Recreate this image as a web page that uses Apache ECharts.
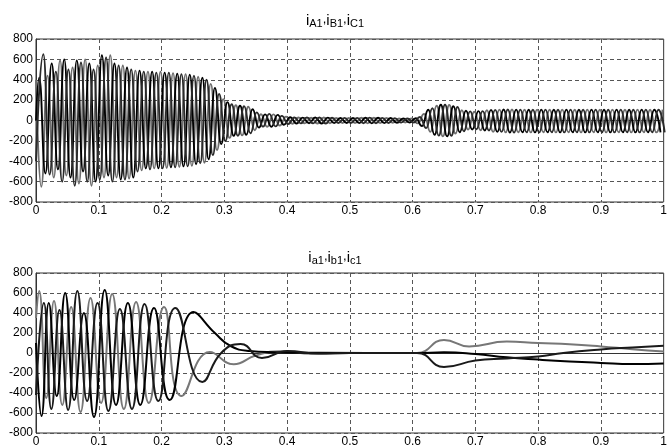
<!DOCTYPE html>
<html><head><meta charset="utf-8">
<script src="https://cdn.jsdelivr.net/npm/echarts@6/dist/echarts.min.js"></script>
<style>html,body{margin:0;padding:0;background:#fff}#c{width:670px;height:448px}</style>
</head><body><div id="c"></div>
<script>
// ---- axes ----
const xMin = 0, xMax = 1, xStep = 0.1;
const yMin = -800, yMax = 800, yStep = 200;

// ---- top plot: stator currents, 50 Hz, signed peak values every half period ----
const topHalfPeriod = 0.01;
const topStartA = 0.005, topStartB = 0.011667, topStartC = 0.008333;
const topInitA = 0, topInitB = -400, topInitC = 400;
const topPeaksA = [
  420,-520,560,-480,600,-560,590,-500,560,-600,
  640,-540,560,-580,520,-560,490,-470,480,-470,
  470,-460,460,-450,450,-430,420,-380,320,-230,
  180,-150,145,-140,110,-70,60,-62,55,-42,
  32,-30,28,-27,29,-30,28,-26,25,-24,
  25,-26,27,-28,27,-26,24,-22,20,-20,
  22,-55,105,-140,155,-155,140,-115,95,-88,
  92,-98,104,-112,108,-118,107,-116,106,-117,
  107,-116,106,-117,107,-116,106,-117,107,-116,
  106,-117,107,-116,106,-117,107,-116,106,-117
];
const topPeaksB = [
  650,-530,480,-600,500,-640,570,-600,500,-580,
  620,-600,540,-580,500,-500,480,-480,470,-470,
  470,-460,455,-450,440,-420,400,-340,260,-200,
  160,-150,140,-125,80,-60,65,-58,45,-35,
  30,-28,29,-28,30,-29,27,-25,26,-25,
  26,-27,28,-27,26,-25,23,-21,20,-20,
  35,-75,120,-148,155,-150,132,-105,90,-86,
  92,-98,104,-112,108,-118,107,-116,106,-117,
  107,-116,106,-117,107,-116,106,-117,107,-116,
  106,-117,107,-116,106,-117,107,-116,106,-117
];
const topPeaksC = [
  -650,440,-560,590,-540,520,-620,600,-640,540,
  -560,640,-560,540,-570,490,-490,480,-470,480,
  -465,465,-455,455,-445,430,-415,360,-290,210,
  -170,150,-145,135,-95,62,-62,60,-50,38,
  -32,29,-28,27,-29,30,-27,25,-25,24,
  -26,27,-28,27,-26,24,-22,21,-20,20,
  -28,65,-112,145,-155,152,-128,100,-90,86,
  -95,100,-112,107,-117,108,-116,106,-117,107,
  -116,106,-117,107,-116,106,-117,107,-116,106,
  -117,107,-116,106,-117,107,-116,106,-117,107
];

// ---- bottom plot: rotor currents (extremes) ----
const rotorGTimes  = [0,0.005,0.0164,0.0287,0.0419,0.056,0.071,0.0869,0.1037,0.1214,0.14,0.1595,0.1799,0.204,0.232,0.277,0.315,0.35,0.39,0.44,0.5,0.607,0.65,0.69,0.75,0.8,0.85,0.9,0.95,1.0];
const rotorGValues = [350,620,-450,520,-520,460,-590,550,-500,590,-560,510,-500,460,-430,10,-112,-25,18,-8,0,0,131,66,115,99,88,66,38,15];
const rotorK1Times  = [0,0.0087,0.0204,0.033,0.0465,0.0609,0.0762,0.0924,0.1095,0.1275,0.1464,0.1662,0.188,0.213,0.251,0.285,0.31,0.34,0.38,0.45,0.607,0.65,0.7,0.75,0.8,0.85,0.9,0.95,1.0];
const rotorK1Values = [100,-630,500,-430,600,-470,400,-640,630,-520,500,-520,450,-470,410,200,70,20,8,2,0,7,-10,-43,-66,-85,-99,-110,-105];
const rotorK2Times  = [0,0.0125,0.0245,0.0374,0.0512,0.0659,0.0815,0.098,0.1154,0.1337,0.1529,0.173,0.195,0.222,0.265,0.295,0.326,0.36,0.40,0.45,0.5,0.607,0.65,0.7,0.75,0.8,0.84,0.9,0.95,1.0];
const rotorK2Values = [-420,500,-560,430,-570,620,-480,500,-580,440,-560,490,-480,450,-290,0,90,-50,20,-5,0,0,-140,-76,-55,-35,0,35,55,72];

// ---- build ----
function peaks(init, start, vals) {
  const d = [[0, init]];
  vals.forEach((v, k) => d.push([+(start + k * topHalfPeriod).toFixed(6), v]));
  return d;
}
function pairs(ts, vs) { return ts.map((t, i) => [t, vs[i]]); }

const FONT = 'Liberation Sans, Arial, sans-serif';
function xAxis(gi) {
  return {
    type: 'value', gridIndex: gi, min: xMin, max: xMax, interval: xStep,
    axisLine: { show: true, lineStyle: { color: '#333', width: 1 } },
    axisTick: { show: false },
    axisLabel: { color: '#000', fontSize: 12, fontFamily: FONT, margin: 3 },
    splitLine: { show: true, lineStyle: { color: '#555', type: [4, 3], width: 1 } }
  };
}
function yAxis(gi) {
  return {
    type: 'value', gridIndex: gi, min: yMin, max: yMax, interval: yStep,
    axisLine: { show: true, lineStyle: { color: '#333', width: 1 } },
    axisTick: { show: false },
    axisLabel: { color: '#000', fontSize: 12, fontFamily: FONT, margin: 3 },
    splitLine: { show: true, lineStyle: { color: '#555', type: [4, 3], width: 1 } }
  };
}
function line(gi, data, color, w, mono) {
  return {
    type: 'line', xAxisIndex: gi, yAxisIndex: gi, data, showSymbol: false,
    smooth: 0.5, smoothMonotone: mono ? 'x' : undefined, clip: true, silent: true,
    lineStyle: { color, width: w }
  };
}
const rich = {
  m: { fontSize: 15, fontWeight: 'normal', fontFamily: FONT, color: '#000', lineHeight: 16, verticalAlign: 'top' },
  c: { fontSize: 13, fontWeight: 'normal', fontFamily: FONT, color: '#000', lineHeight: 6, verticalAlign: 'top' },
  s: { fontSize: 11, fontWeight: 'normal', fontFamily: FONT, color: '#000', lineHeight: 12, padding: [8, 0, 0, 0], verticalAlign: 'bottom' }
};

const chart = echarts.init(document.getElementById('c'), null, { renderer: 'canvas' });
chart.setOption({
  animation: false,
  backgroundColor: '#fff',
  title: [
    { text: '{m|i}{s|A1}{c|,}{m|i}{s|B1}{c|,}{m|i}{s|C1}', left: 'center', top: 8, textStyle: { fontWeight: 'normal', rich } },
    { text: '{m|i}{s|a1}{c|,}{m|i}{s|b1}{c|,}{m|i}{s|c1}', left: 'center', top: 245, textStyle: { fontWeight: 'normal', rich } }
  ],
  grid: [
    { left: 36, right: 1, top: 39, height: 163, show: true, borderColor: '#333', borderWidth: 1 },
    { left: 36, right: 1, top: 273, height: 162, show: true, borderColor: '#333', borderWidth: 1 }
  ],
  xAxis: [xAxis(0), xAxis(1)],
  yAxis: [yAxis(0), yAxis(1)],
  series: [
    line(0, peaks(topInitC, topStartC, topPeaksC), '#6e6e6e', 1.9, true),
    line(0, peaks(topInitA, topStartA, topPeaksA), '#000000', 1.9, true),
    line(0, peaks(topInitB, topStartB, topPeaksB), '#2a2a2a', 1.9, true),
    line(1, pairs(rotorGTimes, rotorGValues), '#777777', 2, false),
    line(1, pairs(rotorK1Times, rotorK1Values), '#000000', 2, false),
    line(1, pairs(rotorK2Times, rotorK2Values), '#1a1a1a', 2, false)
  ]
});
</script>
</body></html>
